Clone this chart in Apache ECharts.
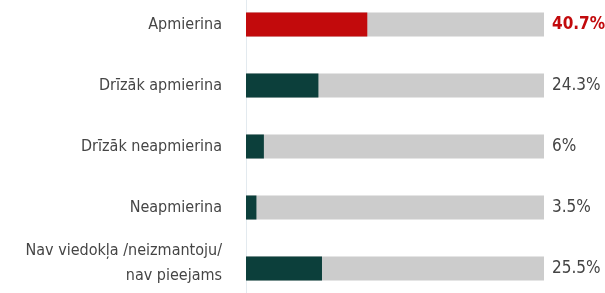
<!DOCTYPE html>
<html>
<head>
<meta charset="utf-8">
<script src="https://cdn.jsdelivr.net/npm/echarts@6/dist/echarts.min.js"></script>
<style>
  html, body { margin: 0; padding: 0; background: #fff; }
  #chart { width: 605px; height: 293px; }
</style>
</head>
<body>
<div id="chart"></div>
<script>
// satisfaction answers, share of respondents (%)
const categories = [
  'Apmierina',
  'Drīzāk apmierina',
  'Drīzāk neapmierina',
  'Neapmierina',
  'Nav viedokļa /neizmantoju/\nnav pieejams'
]
const values = [40.7, 24.3, 6, 3.5, 25.5]
const fullScale = [100, 100, 100, 100, 100]
const valueLabels = ['40.7%', '24.3%', '6%', '3.5%', '25.5%']

const FONT = '"Liberation Sans Narrow", "DejaVu Sans Condensed", sans-serif'
const RED = '#c20a0c'
const TEAL = '#0c3f3b'

const chart = echarts.init(document.getElementById('chart'))

chart.setOption({
  animation: false,
  grid: { left: 246, right: 61, top: -6, height: 305, outerBoundsMode: 'none' },
  xAxis: {
    type: 'value', min: 0, max: 100,
    show: false
  },
  yAxis: {
    type: 'category',
    inverse: true,
    data: categories,
    axisTick: { show: false },
    axisLine: { show: true, lineStyle: { color: '#e3eaef', width: 1 } },
    axisLabel: {
      margin: 24,
      color: '#454545',
      fontFamily: FONT,
      fontSize: 16,
      lineHeight: 25,
      align: 'right',
      // the two-line label sits a little above its bar
      formatter: v => v.indexOf('\n') >= 0 ? '{up|' + v.replace('\n', '}\n{up|') + '}' : v,
      rich: {
        up: { fontFamily: FONT, fontSize: 16, color: '#454545', lineHeight: 25, padding: [0, 0, 11, 0] }
      }
    }
  },
  series: [
    {
      // grey track to 100 %, carries the value text at its end
      type: 'bar',
      data: fullScale.map((v, i) => i === 0
        ? { value: v, label: { color: RED, fontWeight: 'bold' } }
        : v),
      barWidth: 24,
      barGap: '-100%',
      silent: true,
      itemStyle: { color: '#cccccc' },
      label: {
        show: true,
        position: 'right',
        distance: 8,
        fontFamily: FONT,
        fontSize: 17,
        formatter: p => valueLabels[p.dataIndex],
        color: '#444'
      }
    },
    {
      type: 'bar',
      data: values.map((v, i) => ({
        value: v,
        itemStyle: { color: i === 0 ? RED : TEAL }
      })),
      barWidth: 24,
      barGap: '-100%'
    }
  ]
})
</script>
</body>
</html>
